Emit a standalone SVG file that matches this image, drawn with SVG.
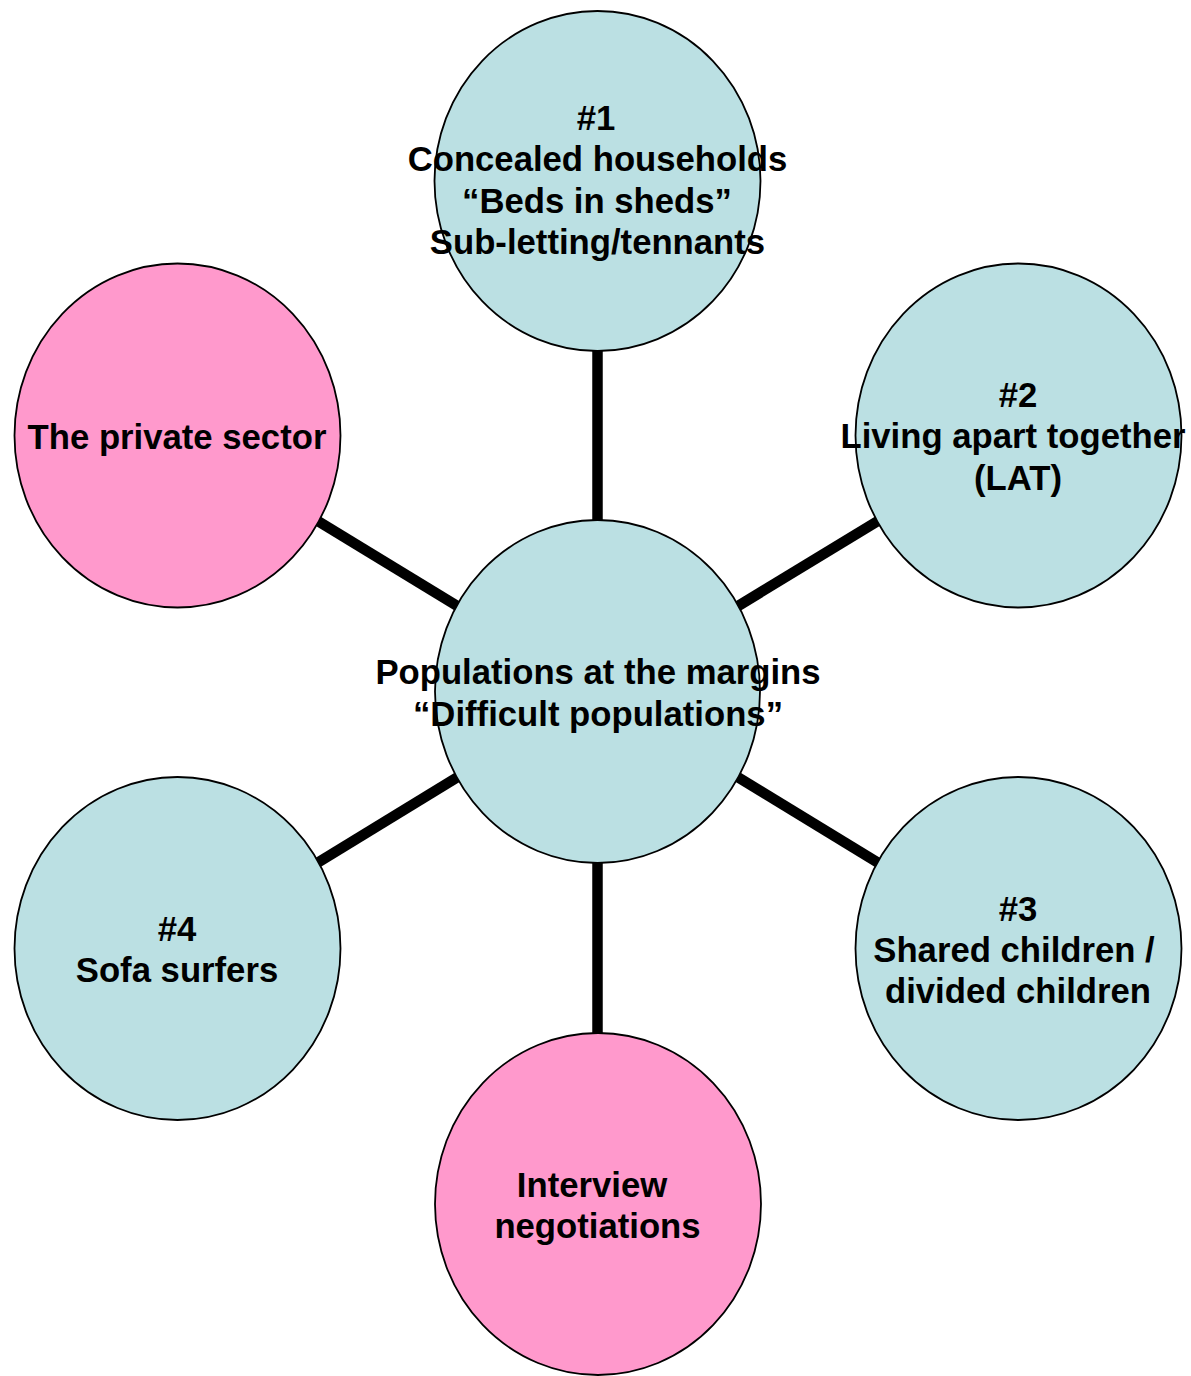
<svg xmlns="http://www.w3.org/2000/svg" width="1191" height="1376" viewBox="0 0 1191 1376">
<style>
.conn{stroke:#000;stroke-width:10.5;fill:none}
.blue{fill:#BBE0E3;stroke:#000;stroke-width:1.8}
.pink{fill:#FF99CC;stroke:#000;stroke-width:1.8}
text{font-family:"Liberation Sans",Arial,sans-serif;font-weight:bold;font-size:34.7px;fill:#000;text-anchor:middle}
</style>
<rect width="1191" height="1376" fill="#fff"/>
<g id="connectors">
<line class="conn" x1="597.5" y1="180" x2="597.5" y2="691.5"/>
<line class="conn" x1="597.5" y1="691.5" x2="597.5" y2="1204"/>
<line class="conn" x1="177.5" y1="435.5" x2="597.5" y2="691.5"/>
<line class="conn" x1="1018.5" y1="435.5" x2="597.5" y2="691.5"/>
<line class="conn" x1="177.5" y1="948.5" x2="597.5" y2="691.5"/>
<line class="conn" x1="1018.5" y1="948.5" x2="597.5" y2="691.5"/>
</g>
<g id="node-center">
<ellipse class="blue" cx="597.5" cy="691.5" rx="162.5" ry="171.5"/>
<text x="598" y="684">Populations at the margins</text>
<text x="598" y="726">“Difficult populations”</text>
</g>
<g id="node-1">
<ellipse class="blue" cx="597.5" cy="181" rx="163" ry="170"/>
<text x="596" y="129.5">#1</text>
<text x="597.5" y="171">Concealed households</text>
<text x="597" y="212.5">“Beds in sheds”</text>
<text x="597.5" y="254">Sub-letting/tennants</text>
</g>
<g id="node-2">
<ellipse class="blue" cx="1018.5" cy="435.5" rx="163" ry="172"/>
<text x="1018" y="407">#2</text>
<text x="1013" y="448">Living apart together</text>
<text x="1018" y="490">(LAT)</text>
</g>
<g id="node-3">
<ellipse class="blue" cx="1018.5" cy="948.5" rx="163" ry="171.5"/>
<text x="1018" y="921">#3</text>
<text x="1014" y="962">Shared children /</text>
<text x="1018" y="1003">divided children</text>
</g>
<g id="node-4">
<ellipse class="blue" cx="177.5" cy="948.5" rx="163" ry="171.5"/>
<text x="177" y="941">#4</text>
<text x="177" y="982">Sofa surfers</text>
</g>
<g id="node-private">
<ellipse class="pink" cx="177.5" cy="435.5" rx="163" ry="172"/>
<text x="177" y="449">The private sector</text>
</g>
<g id="node-interview">
<ellipse class="pink" cx="598" cy="1204" rx="163" ry="171"/>
<text x="592" y="1197">Interview</text>
<text x="597.5" y="1238">negotiations</text>
</g>
</svg>
